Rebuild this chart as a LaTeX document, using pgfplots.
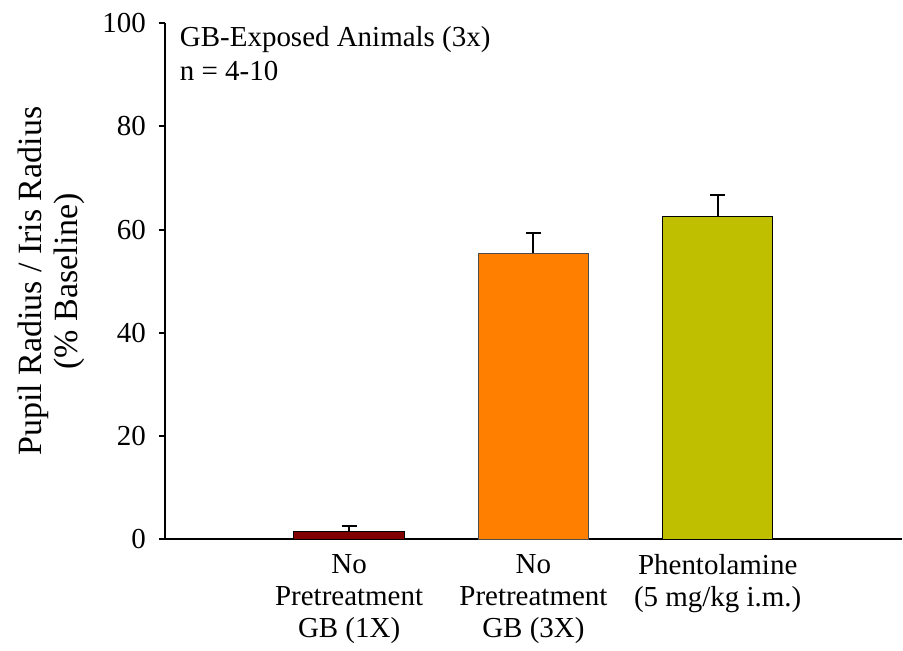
\documentclass[border=0pt]{standalone}
\usepackage{fontspec}
\setmainfont{Liberation Serif}
\usepackage{pgfplots}
\pgfplotsset{compat=1.18}
\definecolor{c1}{HTML}{800000}
\definecolor{c2}{HTML}{FF8000}
\definecolor{c3}{HTML}{BFBF00}
\pgfplotsset{myerr/.style={error bars/.cd, y dir=plus, y explicit,
  error bar style={line width=1pt, black}, error mark=-,
  error mark options={rotate=90, line width=1pt, mark size=3.75pt, black}}}
\begin{document}
\begin{tikzpicture}
\begin{axis}[
  scale only axis, width=369pt, height=258.5pt,
  xmin=0, xmax=4, ymin=0, ymax=100,
  axis x line=bottom, axis y line=left,
  axis line style={-, line width=1pt, black},
  ytick={0,20,...,100},
  xtick={1,2,3},
  xticklabels={{No\\Pretreatment\\GB (1X)},{No\\Pretreatment\\GB (3X)},{Phentolamine\\(5 mg/kg i.m.)}},
  x tick style={draw=none},
  y tick style={line width=1pt, black},
  tick align=outside, major tick length=3pt,
  /pgf/number format/assume math mode=true,
  tick label style={font=\fontsize{14.5}{16}\selectfont},
  xticklabel style={align=center, anchor=north, yshift=-1pt},
  yticklabel style={xshift=-3pt},
  ylabel={Pupil Radius / Iris Radius\\(\% Baseline)},
  ylabel style={align=center, font=\fontsize{17}{18}\selectfont, yshift=2pt},
  clip=false,
]
\addplot[ybar, bar width=0.6, bar shift=0pt, fill=c1, draw=black, line width=0.5pt, myerr]
  coordinates {(1,1.5) +- (0,1.0)};
\addplot[ybar, bar width=0.6, bar shift=0pt, fill=c2, draw=black!70, line width=0.5pt, myerr]
  coordinates {(2,55.4) +- (0,3.9)};
\addplot[ybar, bar width=0.6, bar shift=0pt, fill=c3, draw=black, line width=0.5pt, myerr]
  coordinates {(3,62.5) +- (0,4.1)};
\node[anchor=north west, align=left, inner sep=0pt, font=\fontsize{14.5}{17}\selectfont]
  at (rel axis cs:0.02,0.995) {GB-Exposed Animals (3x)\\n = 4-10};
\end{axis}
\path ([shift={(-82.5pt,-51pt)}]current axis.south west) rectangle ([shift={(0pt,11.5pt)}]current axis.north east);
\end{tikzpicture}
\end{document}
